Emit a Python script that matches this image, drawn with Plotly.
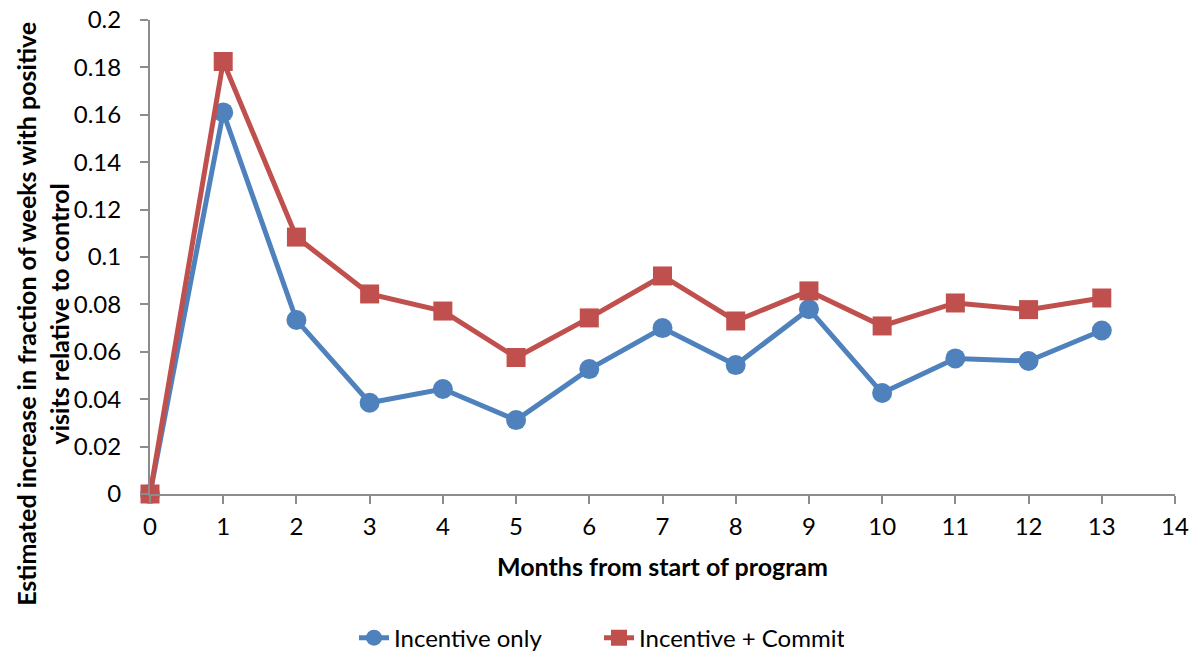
import plotly.graph_objects as go

# Months since the program started
months = [0, 1, 2, 3, 4, 5, 6, 7, 8, 9, 10, 11, 12, 13]

# Estimated increase in fraction of weeks with positive visits
incentive_only = [0.0, 0.161, 0.0734, 0.0385, 0.0443, 0.0312, 0.0527, 0.0700,
                  0.0544, 0.0780, 0.0426, 0.0572, 0.0561, 0.0690]
incentive_commit = [0.0, 0.1825, 0.1084, 0.0844, 0.0772, 0.0576, 0.0743, 0.0920,
                    0.0730, 0.0857, 0.0709, 0.0806, 0.0778, 0.0827]

y_ticks = [0, 0.02, 0.04, 0.06, 0.08, 0.10, 0.12, 0.14, 0.16, 0.18, 0.20]
y_tick_text = ["0", "0.02", "0.04", "0.06", "0.08", "0.1", "0.12", "0.14",
               "0.16", "0.18", "0.2"]

BLUE = "#4F81BD"
RED = "#C0504D"
AXIS = "#8C8C8C"
FONT = "Lato, 'Open Sans', sans-serif"

fig = go.Figure()
fig.add_trace(go.Scatter(
    x=months, y=incentive_only, name="Incentive only",
    mode="lines+markers", cliponaxis=False,
    line=dict(color=BLUE, width=5),
    marker=dict(symbol="circle", size=20, color=BLUE),
))
fig.add_trace(go.Scatter(
    x=months, y=incentive_commit, name="Incentive + Commit",
    mode="lines+markers", cliponaxis=False,
    line=dict(color=RED, width=5),
    marker=dict(symbol="square", size=19, color=RED),
))

fig.update_layout(
    width=1198, height=655,
    margin=dict(l=150, r=23, t=20, b=161, autoexpand=False),
    paper_bgcolor="white", plot_bgcolor="white",
    font=dict(family=FONT, size=24, color="black"),
    showlegend=True,
    legend=dict(orientation="h", xref="container", x=0.5, xanchor="center",
                y=-0.304, yanchor="middle", font=dict(size=24),
                entrywidth=200),
    xaxis=dict(
        range=[0, 14], dtick=1, tick0=0,
        showline=True, linecolor=AXIS, linewidth=2,
        ticks="outside", ticklen=8, tickcolor=AXIS, tickwidth=2,
        showgrid=False, zeroline=False,
        tickfont=dict(size=24), ticklabelstandoff=2,
        title=dict(text="<b>Months from start of program</b>",
                   font=dict(size=25), standoff=20),
    ),
    yaxis=dict(
        range=[0, 0.2], tickvals=y_ticks, ticktext=y_tick_text,
        showline=True, linecolor=AXIS, linewidth=2,
        ticks="outside", ticklen=8, tickcolor=AXIS, tickwidth=2,
        showgrid=False, zeroline=False,
        tickfont=dict(size=24), ticklabelstandoff=14,
    ),
    annotations=[dict(
        text="<b>Estimated increase in fraction of weeks with positive<br>visits relative to control</b>",
        xref="paper", yref="paper", x=-0.1044, y=0.38,
        xanchor="center", yanchor="middle", textangle=-90,
        showarrow=False, font=dict(size=25), align="center",
    )],
)

fig.write_html("out.html")
